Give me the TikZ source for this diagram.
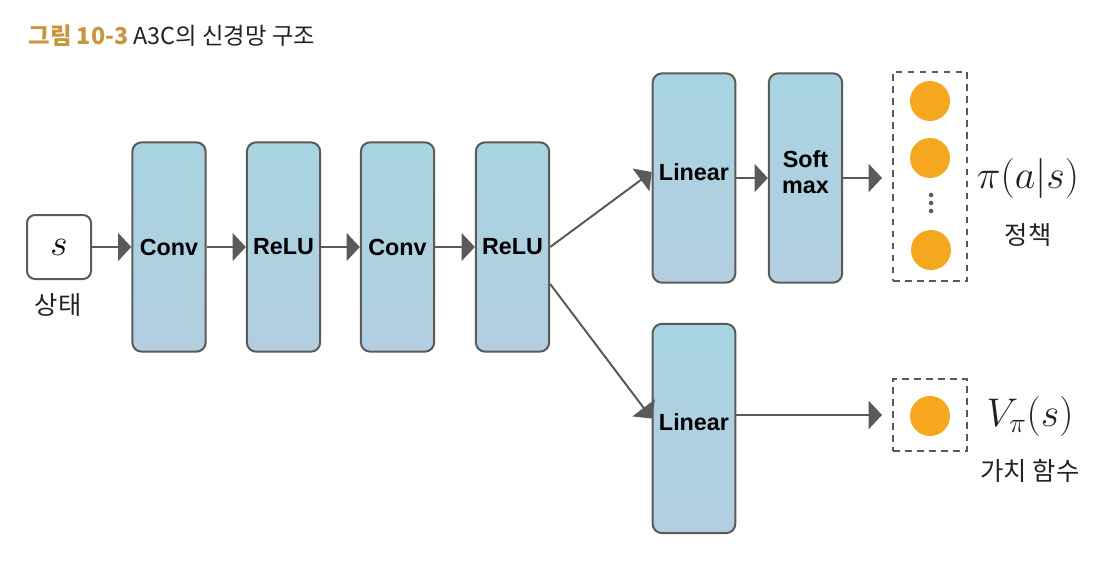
\RequirePackage{fix-cm}
\documentclass[tikz,border=0pt]{standalone}
\usepackage{fontspec}
\newfontfamily\krfont{Noto Sans CJK KR}
\newfontfamily\labfont{Liberation Sans}
\usetikzlibrary{arrows.meta,calc}
\definecolor{layertop}{HTML}{A8D4E1}
\definecolor{layerbot}{HTML}{B2CEE0}
\definecolor{edgegray}{HTML}{5A5A5A}
\definecolor{dotorange}{HTML}{F5A81F}
\definecolor{titlegold}{HTML}{C8963E}
\definecolor{textdark}{HTML}{222222}

\begin{document}
\begin{tikzpicture}[x=0.75pt,y=-0.75pt]
\tikzstyle{layer}=[draw=edgegray, line width=1.5pt, top color=layertop, bottom color=layerbot, rounded corners=7pt, minimum width=55pt, minimum height=157pt, inner sep=0pt, align=center, font=\labfont\bfseries\fontsize{17.5}{20}\selectfont]
\tikzstyle{outbox}=[draw=edgegray, line width=1.5pt, dash pattern=on 5pt off 4pt, minimum width=55.5pt, inner sep=0pt]
\tikzstyle{unit}=[circle, fill=dotorange, minimum size=30pt, inner sep=0pt]
\tikzstyle{arr}=[draw=edgegray, line width=1.5pt, -{Triangle[length=10pt,width=21pt]}]
\tikzstyle{kr}=[font=\krfont\fontsize{19}{22}\selectfont, text=textdark]
\tikzstyle{mathlbl}=[font=\fontsize{30}{33}\selectfont, text=textdark]

\useasboundingbox (0,0) rectangle (1116,563);

\node[anchor=west, font=\krfont\fontsize{17.5}{20}\selectfont, text=textdark] (title) at (24,36) {\textcolor{titlegold}{\bfseries 그림 10-3} A3C의 신경망 구조};

% input
\node[draw=edgegray, line width=1.5pt, fill=white, rounded corners=6pt, minimum size=48pt, font=\fontsize{28}{30}\selectfont] (s) at (59,247) {$s$};
\node[kr] (state) at (58,305) {상태};

% shared layers
\node[layer] (conv1) at (169,247) {Conv};
\node[layer] (relu1) at (283.5,247) {ReLU};
\node[layer] (conv2) at (397.5,247) {Conv};
\node[layer] (relu2) at (512.5,247) {ReLU};

% policy head
\node[layer, minimum width=62pt, text depth=9pt] (lin1) at (694,178) {Linear};
\node[layer, text depth=9pt] (soft) at (805.5,178) {Soft\\max};
\node[outbox, minimum height=157pt] (pbox) at (930,176.5) {};
\node[unit] (p1) at (930,101) {};
\node[unit] (p2) at (930,158) {};
\node[unit] (p3) at (931,250) {};
\fill[edgegray] (931,195) circle (1.7pt) (931,203) circle (1.7pt) (931,211) circle (1.7pt);
\node[mathlbl] (pi) at (1028,178) {$\pi(a|s)$};
\node[kr] (policy) at (1028,235) {정책};

% value head
\node[layer, minimum width=62pt, text depth=10pt] (lin2) at (694,428.5) {Linear};
\node[outbox, minimum height=54pt] (vbox) at (930,415) {};
\node[unit] (v1) at (930,416) {};
\node[mathlbl] (val) at (1030,416) {$V_\pi(s)$};
\node[kr] (value) at (1030,471) {가치 함수};

\draw[arr] (s) -- (conv1);
\draw[arr] (conv1) -- (relu1);
\draw[arr] (relu1) -- (conv2);
\draw[arr] (conv2) -- (relu2);
\draw[arr] (relu2.east) -- ($(lin1.west)+(0,-6)$);
\draw[arr] ($(relu2.east)+(0,37)$) -- ($(lin2.west)+(0,-10)$);
\draw[arr] (lin1) -- (soft);
\draw[arr, shorten >=7.5pt] (soft.east) -- (soft.east -| pbox.west);
\draw[arr, shorten >=7.5pt] (vbox.west -| lin2.east) -- (vbox.west);
\end{tikzpicture}
\end{document}
